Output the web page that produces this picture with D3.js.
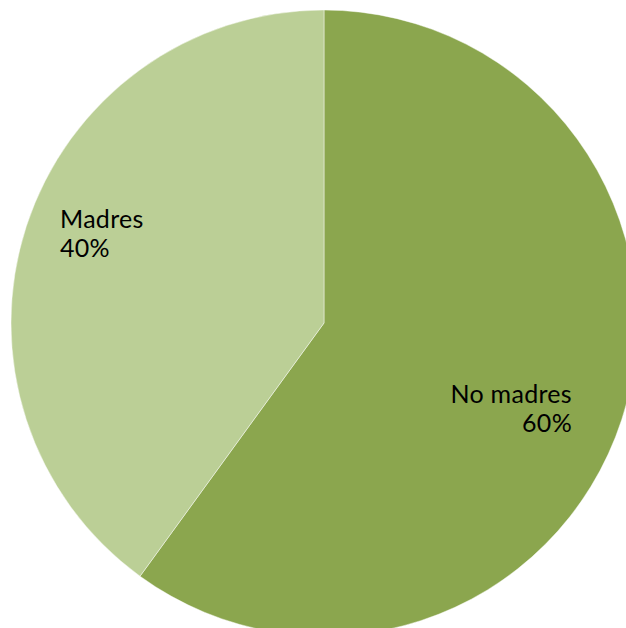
<!DOCTYPE html>
<html>
<head>
<meta charset="utf-8">
<script src="https://cdn.jsdelivr.net/npm/d3@7"></script>
<style>
  html, body { margin: 0; padding: 0; background: #ffffff; }
  svg { display: block; }
</style>
</head>
<body>
<svg id="chart" width="626" height="628"></svg>
<script>
// Share of women by motherhood status
const categories = ["No madres", "Madres"];
const values = [60, 40];
const colors = ["#8BA64E", "#BBCF96"];

const svg = d3.select("#chart");
const cx = 324, cy = 323, radius = 313;

const pie = d3.pie().sort(null).value(d => d.value);
const arcs = pie(categories.map((c, i) => ({ name: c, value: values[i], color: colors[i] })));
const arc = d3.arc().innerRadius(0).outerRadius(radius);

const g = svg.append("g").attr("transform", `translate(${cx},${cy})`);

g.selectAll("path")
  .data(arcs)
  .enter()
  .append("path")
  .attr("d", arc)
  .attr("fill", d => d.data.color)
  .attr("stroke", "rgba(255,255,255,0.45)")
  .attr("stroke-width", 1);

// Category and percentage labels
const total = d3.sum(values);
const labelPos = [
  { x: 572, y: 403, anchor: "end" },
  { x: 60, y: 228, anchor: "start" }
];

arcs.forEach((d, i) => {
  const p = labelPos[i];
  const t = svg.append("text")
    .attr("x", p.x)
    .attr("y", p.y)
    .attr("text-anchor", p.anchor)
    .attr("font-family", "Lato, 'Open Sans', sans-serif")
    .attr("font-size", 25)
    .attr("letter-spacing", 0.3)
    .attr("fill", "#000");
  t.append("tspan").attr("x", p.x).text(d.data.name);
  t.append("tspan").attr("x", p.x).attr("dy", 29)
    .text(Math.round(d.data.value / total * 100) + "%");
});
</script>
</body>
</html>
